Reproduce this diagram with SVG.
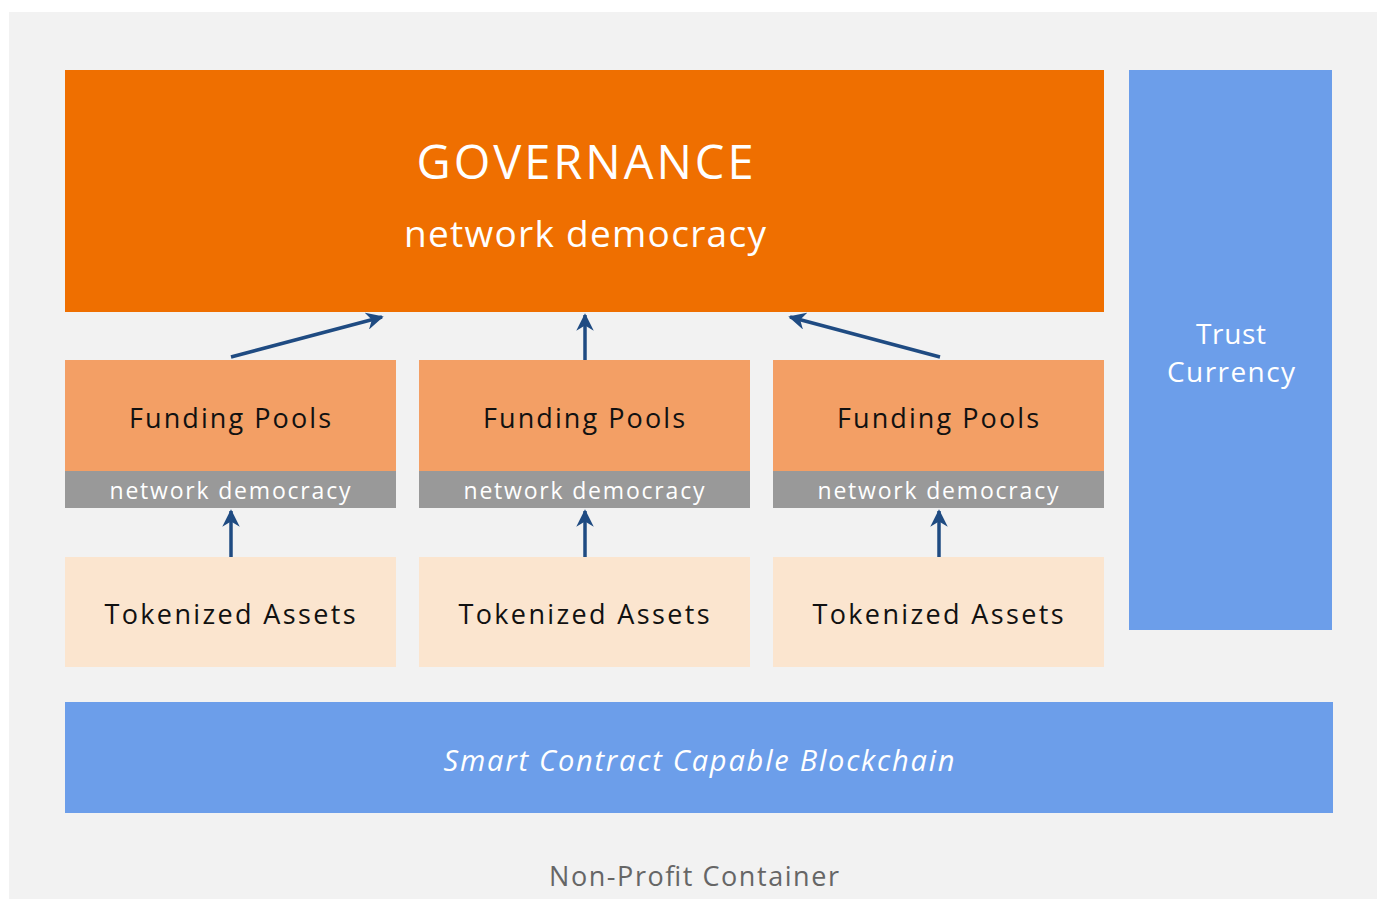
<svg xmlns="http://www.w3.org/2000/svg" width="1377" height="899" viewBox="0 0 1377 899">
<defs>
<style>
text{font-family:"Open Sans","Liberation Sans",sans-serif;text-anchor:middle;dominant-baseline:central}
.pool{fill:#f39f65}
.band{fill:#999999}
.asset{fill:#fbe5cf}
.blue{fill:#6c9eea}
.dark{fill:#111111;font-size:27px}
.white{fill:#ffffff}
.conn{stroke:#1f4b82;stroke-width:3.5;fill:none;marker-end:url(#ah)}
</style>
<marker id="ah" viewBox="0 0 10 10" refX="9" refY="5" markerWidth="5" markerHeight="5" orient="auto" markerUnits="strokeWidth">
<path d="M0,0 L10,5 L0,10 L3,5 Z" fill="#1f4b82"/>
</marker>
</defs>
<rect x="0" y="0" width="1377" height="899" fill="#ffffff"/>
<g id="container">
<rect x="9" y="12" width="1368" height="887" fill="#f2f2f2"/>
<text x="694" y="875" font-size="27" fill="#666666" textLength="290" lengthAdjust="spacing">Non-Profit Container</text>
</g>
<g id="governance">
<rect x="65" y="70" width="1039" height="242" fill="#ef6f00"/>
<text class="white" x="585" y="161" font-size="47" textLength="337" lengthAdjust="spacing">GOVERNANCE</text>
<text class="white" x="585" y="232" font-size="37" textLength="362" lengthAdjust="spacing">network democracy</text>
</g>
<g id="trust">
<rect class="blue" x="1129" y="70" width="203" height="560"/>
<text class="white" x="1231" y="333" font-size="28" textLength="70" lengthAdjust="spacing">Trust</text>
<text class="white" x="1231" y="371" font-size="28" textLength="128" lengthAdjust="spacing">Currency</text>
</g>
<g id="pool1">
<rect class="pool" x="65" y="360" width="331" height="111"/>
<rect class="band" x="65" y="471" width="331" height="37"/>
<text class="dark" x="230" y="417" textLength="202" lengthAdjust="spacing">Funding Pools</text>
<text class="white" x="230" y="490" font-size="23" textLength="241" lengthAdjust="spacing">network democracy</text>
</g>
<g id="pool2">
<rect class="pool" x="419" y="360" width="331" height="111"/>
<rect class="band" x="419" y="471" width="331" height="37"/>
<text class="dark" x="584" y="417" textLength="202" lengthAdjust="spacing">Funding Pools</text>
<text class="white" x="584" y="490" font-size="23" textLength="241" lengthAdjust="spacing">network democracy</text>
</g>
<g id="pool3">
<rect class="pool" x="773" y="360" width="331" height="111"/>
<rect class="band" x="773" y="471" width="331" height="37"/>
<text class="dark" x="938" y="417" textLength="202" lengthAdjust="spacing">Funding Pools</text>
<text class="white" x="938" y="490" font-size="23" textLength="241" lengthAdjust="spacing">network democracy</text>
</g>
<g id="asset1">
<rect class="asset" x="65" y="557" width="331" height="110"/>
<text class="dark" x="230" y="613" textLength="251" lengthAdjust="spacing">Tokenized Assets</text>
</g>
<g id="asset2">
<rect class="asset" x="419" y="557" width="331" height="110"/>
<text class="dark" x="584" y="613" textLength="251" lengthAdjust="spacing">Tokenized Assets</text>
</g>
<g id="asset3">
<rect class="asset" x="773" y="557" width="331" height="110"/>
<text class="dark" x="938" y="613" textLength="251" lengthAdjust="spacing">Tokenized Assets</text>
</g>
<g id="blockchain">
<rect class="blue" x="65" y="702" width="1268" height="111"/>
<text class="white" x="699" y="759" font-size="29" font-style="italic" textLength="511" lengthAdjust="spacing">Smart Contract Capable Blockchain</text>
</g>
<g id="connectors">
<line class="conn" x1="231" y1="357" x2="382" y2="317"/>
<line class="conn" x1="585" y1="360" x2="585" y2="315"/>
<line class="conn" x1="940" y1="357" x2="790" y2="317"/>
<line class="conn" x1="231" y1="557" x2="231" y2="511"/>
<line class="conn" x1="585" y1="557" x2="585" y2="511"/>
<line class="conn" x1="939" y1="557" x2="939" y2="511"/>
</g>
</svg>
